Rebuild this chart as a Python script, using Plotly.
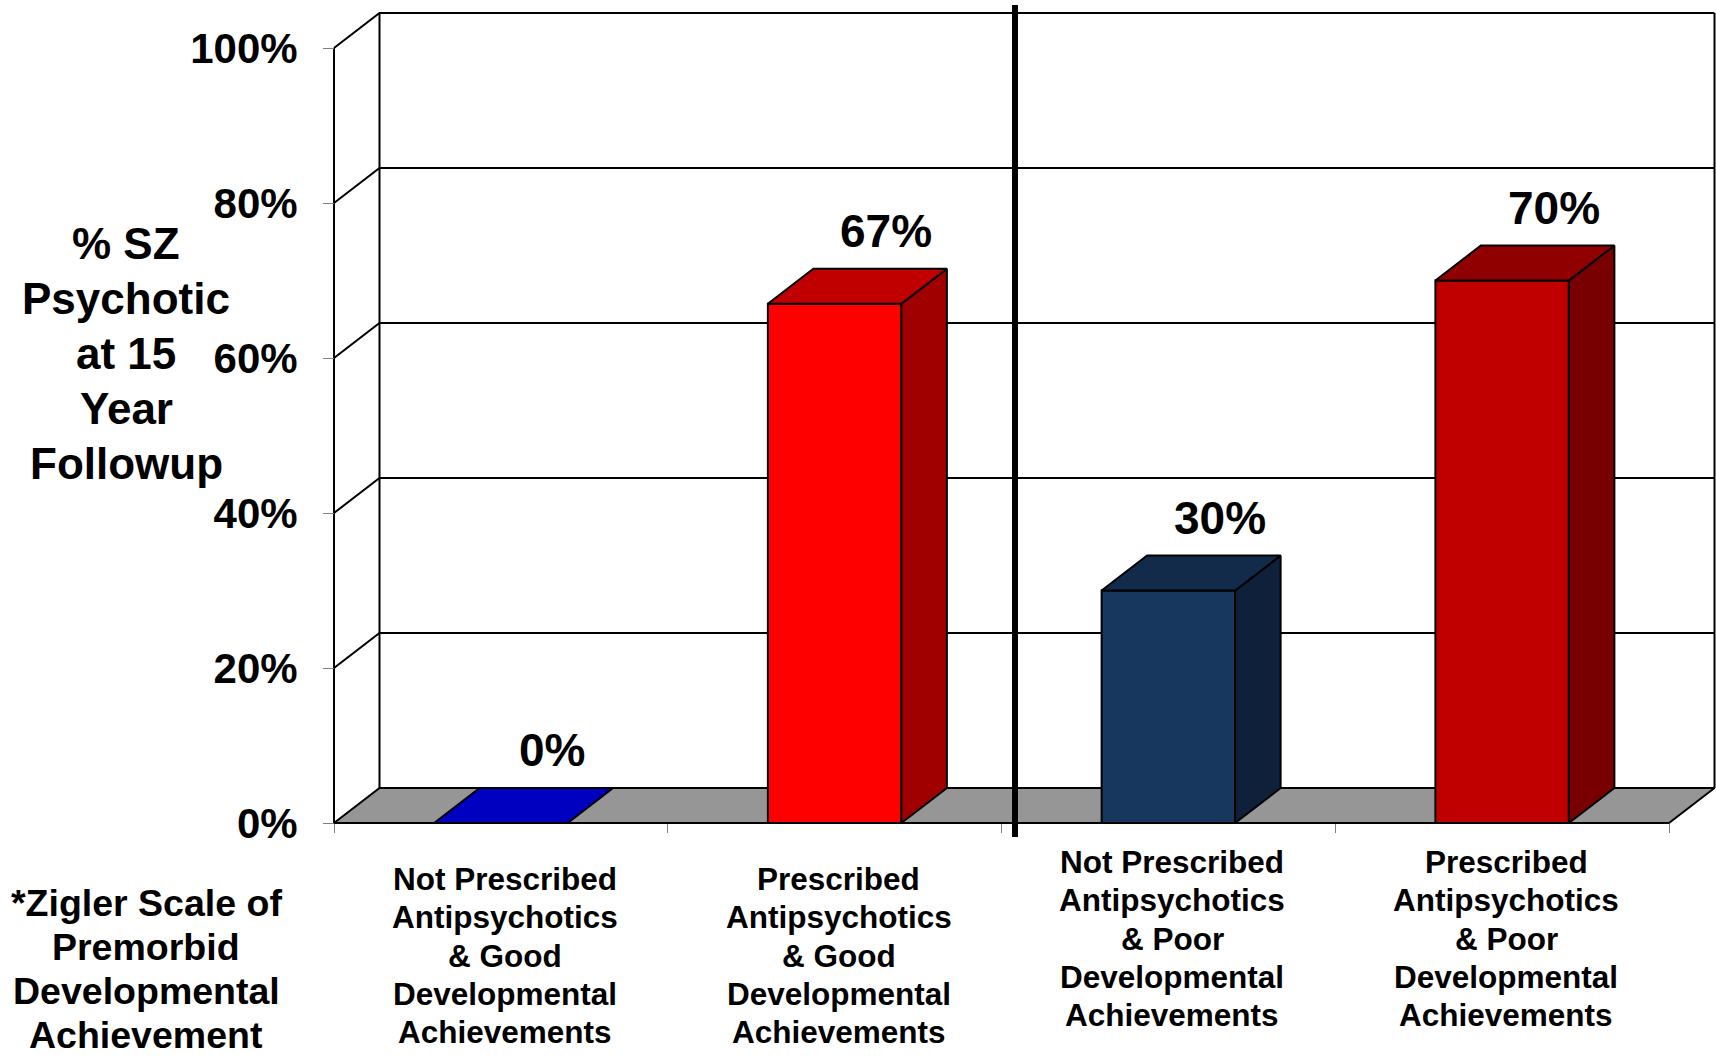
import plotly.graph_objects as go

# ---- data ---------------------------------------------------------------
categories = [
    "Not Prescribed<br>Antipsychotics<br>& Good<br>Developmental<br>Achievements",
    "Prescribed<br>Antipsychotics<br>& Good<br>Developmental<br>Achievements",
    "Not Prescribed<br>Antipsychotics<br>& Poor<br>Developmental<br>Achievements",
    "Prescribed<br>Antipsychotics<br>& Poor<br>Developmental<br>Achievements",
]
values = [0, 67, 30, 70]
y_ticks = [0, 20, 40, 60, 80, 100]
y_title = ["% SZ", "Psychotic", "at 15", "Year", "Followup"]
scale_note = ["*Zigler Scale of", "Premorbid", "Developmental", "Achievement"]

# face colours of each 3-D bar: front / top / right side
front_colors = ["#0000C0", "#FF0000", "#17375E", "#C00000"]
top_colors = ["#0000C0", "#C00000", "#132B4A", "#900000"]
side_colors = ["#0000A0", "#A00000", "#0F213A", "#780000"]

# ---- geometry of the page --------------------------------------------------
W, H = 1716, 1058
PX_PER_CAT = 333.75      # pixels per category slot
PX_PER_PCT = 7.75        # pixels per percentage point
X0_PX, Y0_PX = 334, 823  # pixel position of the front-left floor corner
DEPTH_X_PX, DEPTH_Y_PX = 45.5, 35

n = len(categories)
xmin, xmax = -X0_PX / PX_PER_CAT, (W - X0_PX) / PX_PER_CAT
ymax, ymin = Y0_PX / PX_PER_PCT, -(H - Y0_PX) / PX_PER_PCT
DX = DEPTH_X_PX / PX_PER_CAT
DY = DEPTH_Y_PX / PX_PER_PCT
BAR_W = 0.4
TOP = y_ticks[-1]


def px_x(px):
    return xmin + px / PX_PER_CAT


def px_y(py):
    return ymax - py / PX_PER_PCT


FONT = "Arial, Liberation Sans, sans-serif"
EDGE = dict(color="black", width=2)

fig = go.Figure()


def polygon(xs, ys, fill):
    fig.add_trace(go.Scatter(
        x=list(xs) + [xs[0]], y=list(ys) + [ys[0]], mode="lines",
        fill="toself", fillcolor=fill, line=EDGE,
        hoverinfo="skip", showlegend=False))


# back wall, left wall gridlines and frame edges
gx, gy = [], []
for t in y_ticks[1:]:
    gx += [0, DX, n + DX, None]
    gy += [t, t + DY, t + DY, None]
for xv, base in [(0, 0), (DX, DY), (n + DX, DY)]:
    gx += [xv, xv, None]
    gy += [base, base + TOP, None]
fig.add_trace(go.Scatter(x=gx, y=gy, mode="lines", line=EDGE,
                         hoverinfo="skip", showlegend=False))

# floor
polygon([0, n, n + DX, DX], [0, 0, DY, DY], "#969696")

# bars
for i, v in enumerate(values):
    xl, xr = i + 0.5 - BAR_W / 2, i + 0.5 + BAR_W / 2
    if v > 0:
        polygon([xl, xr, xr, xl], [0, 0, v, v], front_colors[i])
        polygon([xr, xr + DX, xr + DX, xr], [0, DY, v + DY, v], side_colors[i])
    polygon([xl, xr, xr + DX, xl + DX], [v, v, v + DY, v + DY], top_colors[i])

annotations = []

# value labels
for i, v in enumerate(values):
    annotations.append(dict(
        x=i + 0.5 + DX, y=v + DY, text=f"{v}%", showarrow=False,
        xshift=6, yshift=38, xanchor="center", yanchor="middle",
        font=dict(family=FONT, size=46, color="black", weight="bold")))

# category labels
LINE_PITCH = 38.3
for i, lab in enumerate(categories):
    first = 879 if i < n / 2 else 862
    for j, line in enumerate(lab.split("<br>")):
        annotations.append(dict(
            x=i + 0.5, y=px_y(first + j * LINE_PITCH), text=line,
            showarrow=False, xshift=4, xanchor="center", yanchor="middle",
            font=dict(family=FONT, size=31.5, color="black", weight="bold")))

# axis title
for j, line in enumerate(y_title):
    annotations.append(dict(
        x=px_x(126), y=px_y(243 + j * 55), text=line, showarrow=False,
        xanchor="center", yanchor="middle",
        font=dict(family=FONT, size=44, color="black", weight="bold")))

# scale footnote
for j, line in enumerate(scale_note):
    annotations.append(dict(
        x=px_x(146), y=px_y(903 + j * 44), text=line, showarrow=False,
        xanchor="center", yanchor="middle",
        font=dict(family=FONT, size=37.5, color="black", weight="bold")))

# separator between good / poor developmental groups
fig.add_shape(type="line", xref="x", yref="paper",
              x0=px_x(1015), x1=px_x(1015),
              y0=1 - 5 / H, y1=1 - 837 / H,
              line=dict(color="black", width=6))

fig.update_layout(
    width=W, height=H,
    margin=dict(l=0, r=0, t=0, b=0),
    paper_bgcolor="white", plot_bgcolor="white",
    showlegend=False,
    annotations=annotations,
    xaxis=dict(
        range=[xmin, xmax], showgrid=False, zeroline=False, showline=False,
        anchor="free", position=(0 - ymin) / (ymax - ymin),
        tickmode="array", tickvals=list(range(n + 1)), showticklabels=False,
        ticks="outside", ticklen=9, tickwidth=1, tickcolor="#808080",
        fixedrange=True),
    yaxis=dict(
        range=[ymin, ymax], showgrid=False, zeroline=False, showline=False,
        anchor="free", position=(0 - xmin) / (xmax - xmin),
        tickmode="array", tickvals=y_ticks,
        ticktext=[f"{t}%" for t in y_ticks],
        ticks="outside", ticklen=11, tickwidth=1, tickcolor="#808080",
        ticklabelstandoff=17,
        tickfont=dict(family=FONT, size=42, color="black", weight="bold"),
        fixedrange=True),
)

fig.write_html("out.html", config={"displayModeBar": False})
